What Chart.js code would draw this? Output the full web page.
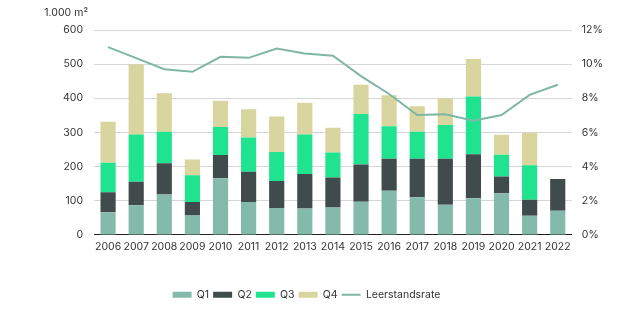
<!DOCTYPE html>
<html>
<head>
<meta charset="utf-8">
<script src="https://cdn.jsdelivr.net/npm/chart.js@4"></script>
<style>
  html, body { margin: 0; padding: 0; background: #fff; }
  #chart { display: block; }
</style>
</head>
<body>
<canvas id="chart" width="627" height="328"></canvas>
<script>
const jahre = ['2006','2007','2008','2009','2010','2011','2012','2013','2014','2015','2016','2017','2018','2019','2020','2021','2022'];
const q1 = [66, 87, 118, 57, 166, 96, 79, 77, 80, 97, 129, 110, 88, 107, 122, 56, 71];
const q2 = [59, 69, 92, 39, 68, 89, 79, 101, 88, 109, 94, 113, 135, 129, 49, 47, 93];
const q3 = [86, 138, 92, 79, 82, 100, 85, 116, 73, 148, 95, 79, 99, 169, 64, 101, 0];
const q4 = [120, 206, 113, 46, 77, 83, 104, 93, 73, 86, 91, 75, 78, 110, 58, 95, 0];
const leerstandsrate = [11.0, 10.35, 9.7, 9.55, 10.43, 10.37, 10.91, 10.62, 10.49, 9.3, 8.25, 7.02, 7.07, 6.68, 7.02, 8.2, 8.79];

const farben = {
    q1: '#84baaa',
    q2: '#404c4c',
    q3: '#1fe38f',
    q4: '#d9d59e',
    linie: '#7fb6a6'
};

const schrift = { family: 'Inter, "Noto Sans", sans-serif', size: 10.5 };

// Einheit über der linken Achse
const einheitPlugin = {
    id: 'einheit',
    afterDraw(chart) {
        const {ctx} = chart;
        const y = chart.scales.y;
        ctx.save();
        ctx.font = `10.5px ${schrift.family}`;
        ctx.fillStyle = '#333';
        ctx.textAlign = 'right';
        ctx.textBaseline = 'middle';
        ctx.fillText('1.000 m²', y.right - 6, 13);
        ctx.restore();
    }
};

// Legende etwas nach links versetzen
const legendeVersatz = {
    id: 'legendeVersatz',
    afterLayout(chart) {
        const legend = chart.legend;
        if (!legend) return;
        legend.left -= 26;
        legend.right -= 26;
    }
};

const balken = (label, data, color) => ({
    type: 'bar',
    label,
    data,
    backgroundColor: color,
    borderWidth: 0,
    stack: 'flaeche',
    yAxisID: 'y',
    pointStyle: 'rect',
    barPercentage: 0.54,
    categoryPercentage: 1,
    order: 2
});

new Chart(document.getElementById('chart'), {
    data: {
        labels: jahre,
        datasets: [
            balken('Q1', q1, farben.q1),
            balken('Q2', q2, farben.q2),
            balken('Q3', q3, farben.q3),
            balken('Q4', q4, farben.q4),
            {
                type: 'line',
                label: 'Leerstandsrate',
                data: leerstandsrate,
                borderColor: farben.linie,
                backgroundColor: farben.linie,
                borderWidth: 2,
                pointRadius: 0,
                pointStyle: 'line',
                tension: 0,
                yAxisID: 'y1',
                order: 1
            }
        ]
    },
    options: {
        responsive: false,
        animation: false,
        layout: { padding: { left: 52, right: 14, top: 30, bottom: 18 } },
        plugins: {
            legend: {
                position: 'bottom',
                labels: {
                    sort: (a, b) => a.datasetIndex - b.datasetIndex,
                    usePointStyle: true,
                    pointStyleWidth: 19,
                    boxHeight: 6,
                    padding: 4,
                    color: '#333',
                    font: schrift
                }
            },
            tooltip: { enabled: false }
        },
        scales: {
            x: {
                stacked: true,
                grid: { display: false, drawTicks: false },
                border: { color: '#222', width: 1 },
                ticks: { color: '#333', font: schrift, padding: 6, maxRotation: 0, autoSkip: false },
                afterFit(scale) { scale.height += 26; }
            },
            y: {
                stacked: true,
                min: 0,
                max: 600,
                ticks: { stepSize: 100, color: '#333', font: schrift, padding: 11 },
                grid: { color: '#d6d6d6', drawTicks: false },
                border: { display: false }
            },
            y1: {
                position: 'right',
                min: 0,
                max: 12,
                ticks: {
                    stepSize: 2,
                    color: '#333',
                    font: schrift,
                    padding: 10,
                    callback: v => v + '%'
                },
                grid: { display: false, drawTicks: false },
                border: { display: false }
            }
        }
    },
    plugins: [einheitPlugin, legendeVersatz]
});
</script>
</body>
</html>
